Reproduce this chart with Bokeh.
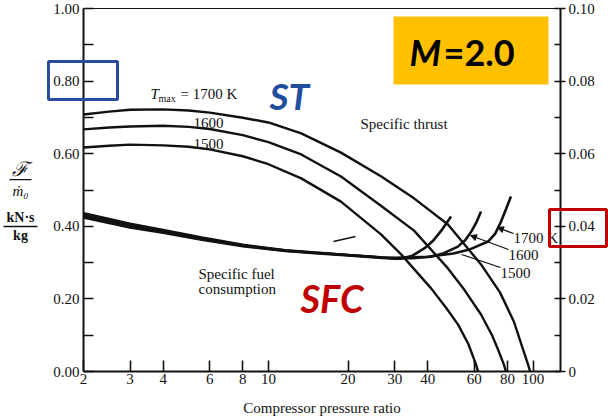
import math
from bokeh.plotting import figure
from bokeh.models import (Range1d, LinearAxis, LogAxis, FixedTicker, CustomJSTickFormatter,
                          PrintfTickFormatter, Label, BoxAnnotation, Arrow, NormalHead)
from bokeh.embed import file_html
from bokeh.resources import INLINE

# ---------------- data ----------------
x_ticks = [2, 3, 4, 6, 8, 10, 20, 30, 40, 60, 80, 100]
st_ticks = [0, 0.2, 0.4, 0.6, 0.8, 1.0]
st_minor = [0.1, 0.3, 0.5, 0.7, 0.9]
sfc_ticks = [0, 0.02, 0.04, 0.06, 0.08, 0.10]
sfc_minor = [0.01, 0.03, 0.05, 0.07, 0.09]

# specific thrust (kN*s/kg), left axis
st_1700_pr = [2, 2.5, 3, 4, 5, 6, 8, 10, 13.3, 18.8, 26.7, 35.5, 47.7, 63.6, 75, 84.6, 91, 95.8, 97.5]
st_1700 = [0.708, 0.716, 0.721, 0.722, 0.719, 0.713, 0.699, 0.686, 0.656, 0.603, 0.537, 0.477, 0.405, 0.295, 0.218, 0.138, 0.068, 0.019, 0.0]
st_1600_pr = [2, 2.5, 3, 4, 5, 6, 8, 10, 13.3, 18.8, 26.7, 35.5, 47.7, 55, 63.6, 70, 74, 77.6, 79]
st_1600 = [0.667, 0.672, 0.675, 0.677, 0.674, 0.668, 0.651, 0.632, 0.598, 0.537, 0.456, 0.388, 0.284, 0.225, 0.157, 0.100, 0.058, 0.019, 0.0]
st_1500_pr = [2, 2.5, 3, 4, 5, 6, 8, 10, 13.3, 18.8, 26.7, 31.8, 41.2, 47, 52.1, 57, 60.9, 62]
st_1500 = [0.617, 0.622, 0.625, 0.623, 0.619, 0.612, 0.593, 0.571, 0.532, 0.468, 0.377, 0.322, 0.229, 0.175, 0.129, 0.075, 0.019, 0.0]

# specific fuel consumption, right axis
sfc_1700_pr = [2, 3, 4, 5.6, 8, 11.6, 15, 20, 27, 30, 40, 50, 58, 67.6, 72, 75.7, 79, 82.5]
sfc_1700 = [0.0436, 0.0407, 0.0390, 0.0369, 0.0349, 0.0334, 0.0328, 0.0321, 0.0314, 0.0313, 0.0316, 0.0325, 0.0337, 0.0358, 0.0380, 0.0413, 0.0447, 0.0482]
sfc_1600_pr = [2, 3, 4, 5.6, 8, 11.6, 15, 20, 27, 30, 35, 41, 46, 52, 55.5, 58.5, 61, 63.6]
sfc_1600 = [0.0430, 0.0402, 0.0386, 0.0366, 0.0347, 0.0333, 0.0327, 0.0321, 0.0314, 0.0312, 0.0312, 0.0316, 0.0326, 0.0344, 0.0362, 0.0386, 0.0410, 0.0441]
sfc_1500_pr = [2, 3, 4, 5.6, 8, 11.6, 15, 20, 27, 30, 31.8, 35, 38.8, 42, 45, 49]
sfc_1500 = [0.0424, 0.0397, 0.0382, 0.0363, 0.0345, 0.0332, 0.0326, 0.0320, 0.0313, 0.0311, 0.0311, 0.0319, 0.0339, 0.0361, 0.0388, 0.0427]

# ---------------- layout geometry ----------------
W, H = 608, 419
L, R, T, B = 83, 560, 8, 371          # canvas px of the data box
X0, X1 = 2, 127                        # pressure-ratio span of the box
Y0, Y1 = 0.0, 1.0                      # specific-thrust span of the box
SFC_SCALE = 0.1

dpp = (math.log10(X1) - math.log10(X0)) / (R - L)
x_start = 10 ** (math.log10(X0) - L * dpp)
x_end = 10 ** (math.log10(X1) + (W - R) * dpp)
ypp = (Y1 - Y0) / (B - T)
y_start = Y0 - (H - B) * ypp
y_end = Y1 + T * ypp

SERIF = "Liberation Serif"
INK = "#111111"

p = figure(width=W, height=H, x_axis_type="log",
           x_range=Range1d(x_start, x_end), y_range=Range1d(y_start, y_end),
           output_backend="svg", toolbar_location=None,
           min_border=0, min_border_left=0, min_border_right=0, min_border_top=0, min_border_bottom=0)
p.title.visible = False
p.background_fill_color = "white"
p.border_fill_color = "white"
p.outline_line_color = None
p.xgrid.visible = False
p.ygrid.visible = False


def style_axis(ax):
    ax.axis_line_color = INK
    ax.axis_line_width = 2
    ax.major_tick_line_color = INK
    ax.minor_tick_line_color = INK
    ax.major_tick_line_width = 1.6
    ax.minor_tick_line_width = 1.6
    ax.major_label_text_font = SERIF
    ax.major_label_text_font_size = "15px"
    ax.major_label_text_color = INK


xa = p.xaxis[0]
style_axis(xa)
xa.fixed_location = Y0
xa.bounds = (X0, X1)
xa.ticker = FixedTicker(ticks=x_ticks, minor_ticks=[])
xa.formatter = PrintfTickFormatter(format="%d")
xa.major_tick_in = 11
xa.major_tick_out = 0
xa.major_label_standoff = 2
xa.axis_label = "Compressor pressure ratio"
xa.axis_label_text_font = SERIF
xa.axis_label_text_font_style = "normal"
xa.axis_label_text_font_size = "15px"
xa.axis_label_text_color = INK
xa.axis_label_standoff = 13

ya = p.yaxis[0]
style_axis(ya)
ya.fixed_location = X0
ya.bounds = (Y0, Y1)
ya.ticker = FixedTicker(ticks=st_ticks, minor_ticks=st_minor)
ya.formatter = PrintfTickFormatter(format="%.2f")
ya.major_tick_in = 10
ya.major_tick_out = 0
ya.minor_tick_in = 10
ya.minor_tick_out = 0
ya.major_label_standoff = 4

p.extra_y_ranges = {"sfc": Range1d(y_start * SFC_SCALE, y_end * SFC_SCALE)}
ra = LinearAxis(y_range_name="sfc")
style_axis(ra)
ra.fixed_location = X1
ra.bounds = (Y0 * SFC_SCALE, Y1 * SFC_SCALE)
ra.ticker = FixedTicker(ticks=sfc_ticks, minor_ticks=sfc_minor)
ra.formatter = CustomJSTickFormatter(code="return tick == 0 ? '0' : tick.toFixed(2);")
ra.major_tick_in = 6
ra.major_tick_out = 5
ra.minor_tick_in = 6
ra.minor_tick_out = 0
ra.major_label_standoff = 3
p.add_layout(ra, "right")

ta = LogAxis(fixed_location=Y1, bounds=(X0, X1), ticker=FixedTicker(ticks=[], minor_ticks=[]))
ta.axis_line_color = INK
ta.axis_line_width = 1.2
ta.major_label_text_alpha = 0
p.add_layout(ta, "above")

# ---------------- curves ----------------
for xs, ys in [(st_1700_pr, st_1700), (st_1600_pr, st_1600), (st_1500_pr, st_1500)]:
    p.line(xs, ys, line_color=INK, line_width=2.4)
for xs, ys in [(sfc_1700_pr, sfc_1700), (sfc_1600_pr, sfc_1600), (sfc_1500_pr, sfc_1500)]:
    p.line(xs, ys, line_color=INK, line_width=2.6, y_range_name="sfc")


# ---------------- annotations (canvas px -> screen units) ----------------
def sx(cx):
    return cx


def sy(cy):
    return H - cy


def lab(cx, cy, text, size="15px", font=SERIF, style="normal", color=INK, align="left", base="middle"):
    p.add_layout(Label(x=sx(cx), y=sy(cy), x_units="screen", y_units="screen", text=text,
                       text_font=font, text_font_size=size, text_font_style=style,
                       text_color=color, text_align=align, text_baseline=base))


def seg(x0, y0, x1, y1, head=False, width=1.3):
    p.add_layout(Arrow(x_start=sx(x0), y_start=sy(y0), x_end=sx(x1), y_end=sy(y1),
                       start_units="screen", end_units="screen",
                       end=NormalHead(size=6, fill_color=INK, line_color=INK) if head else None,
                       line_color=INK, line_width=width))


def box(x0, y0, x1, y1, **kw):
    p.add_layout(BoxAnnotation(left=sx(x0), right=sx(x1), top=sy(y0), bottom=sy(y1),
                               left_units="screen", right_units="screen",
                               top_units="screen", bottom_units="screen", **kw))


# T_max label and curve labels
lab(150, 93, "T", style="italic")
lab(158, 98, "max", size="10px")
lab(180, 93, "= 1700 K")
lab(193, 122, "1600")
lab(193, 143, "1500")
lab(360, 123, "Specific thrust")
lab(198, 273, "Specific fuel")
lab(198, 288, "consumption")
lab(513, 237, "1700 K")
lab(508, 254, "1600")
lab(500, 272, "1500")
seg(513, 233, 497, 227, head=True)
seg(508, 249, 470, 235, head=True)
seg(500, 267, 461, 254)
seg(333, 241, 355, 236)

# left axis title (two stacked fractions)
lab(19, 168, "ℱ", size="20px", style="italic", align="center")
box(9, 178.4, 31, 179.8, fill_color=INK, fill_alpha=1, line_alpha=0)
lab(20, 190, "ṁ₀", size="15px", style="italic", align="center")
lab(20, 217, "kN·s", size="14px", style="bold", align="center")
box(3, 225.3, 37, 226.7, fill_color=INK, fill_alpha=1, line_alpha=0)
lab(20, 235, "kg", size="14px", style="bold", align="center")

# highlight boxes
box(48, 61, 117, 99, fill_alpha=0, line_color="#2A4BA0", line_alpha=1, line_width=3)
box(549, 209, 606, 246, fill_alpha=0, line_color="#C00000", line_alpha=1, line_width=3)
box(393, 16, 548, 84, fill_color="#FFC000", fill_alpha=1, line_alpha=0)

lab(409, 51, "M", size="36px", font="Lato", style="bold italic", color="#000000")
lab(443, 51, "=2.0", size="36px", font="Lato", style="bold", color="#000000")
lab(269, 95, "ST", size="37px", font="Lato", style="bold italic", color="#1F4E9E")
lab(300, 297, "SFC", size="38px", font="Lato", style="bold italic", color="#C00000")

open("out.html", "w").write(file_html(p, INLINE))
